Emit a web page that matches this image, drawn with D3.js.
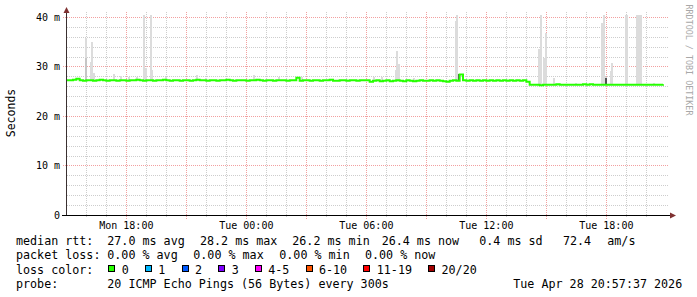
<!DOCTYPE html>
<html>
<head>
<meta charset="utf-8">
<script src="https://cdn.jsdelivr.net/npm/d3@7"></script>
<style>
  body { margin: 0; background: #fff; }
  svg text { font-family: "DejaVu Sans Mono", monospace; fill: #000; }
</style>
</head>
<body>
<svg id="chart" width="697" height="297"></svg>
<script>
// median rtt (ms), one value every 10 minutes starting Mon 15:00
const medianStart = "2026-04-27T15:00";
const medianStepMin = 10;
const medianMs = [
  27.2,27.2,27.3,27.5,27.2,27.1,27.2,27.2,27.1,27.2,27.3,27.2,27.1,27.2,27.2,27.1,27.2,27.2,
  27.1,27.2,27.2,27.3,27.2,27.1,27.2,27.2,27.1,27.2,27.2,27.3,27.2,27.1,27.2,27.2,27.1,27.2,
  27.2,27.1,27.2,27.3,27.2,27.2,27.1,27.2,27.2,27.1,27.2,27.2,27.3,27.2,27.1,27.2,27.2,27.2,
  27.1,27.2,27.2,27.3,27.2,27.1,27.2,27.2,27.1,27.2,27.2,27.2,27.1,27.2,27.2,27.7,27.1,27.2,
  27.2,27.1,27.2,27.2,27.1,27.2,27.2,27.3,27.1,27.1,27.2,27.2,27.1,27.2,27.2,27.1,27.2,27.2,
  27.2,26.9,27.1,27.2,27.0,27.1,27.2,27.0,27.1,27.2,27.1,27.0,27.2,27.1,27.0,27.1,27.2,27.1,
  27.1,27.2,27.1,27.2,27.1,27.0,26.9,27.1,27.2,27.1,28.4,27.2,27.1,27.2,27.1,27.2,27.1,27.2,
  27.1,27.2,27.1,27.2,27.1,27.2,27.1,27.2,27.1,27.2,27.1,27.2,26.9,26.3,26.3,26.3,26.2,26.3,
  26.3,26.3,26.3,26.4,26.3,26.3,26.3,26.3,26.3,26.3,26.3,26.4,26.3,26.4,26.3,26.3,26.3,26.3,
  26.3,26.3,26.3,26.3,26.3,26.3,26.3,26.3,26.3,26.3,26.3,26.3,26.3,26.3,26.3,26.3,26.3,26.4
];

// smoke: 5 minute steps with a high max ping (ms), inner = darker band top
const smokeStepMin = 5;
const spikeTimes = [
  "2026-04-27T15:55","2026-04-27T16:10","2026-04-27T16:15","2026-04-27T16:20","2026-04-27T17:20",
  "2026-04-27T17:40","2026-04-27T18:05","2026-04-27T18:30","2026-04-27T18:50","2026-04-27T18:55",
  "2026-04-27T19:10","2026-04-27T19:15","2026-04-27T19:55","2026-04-27T21:30","2026-04-27T21:55",
  "2026-04-28T00:20","2026-04-28T01:35","2026-04-28T02:45","2026-04-28T06:20","2026-04-28T06:45",
  "2026-04-28T07:25","2026-04-28T07:30","2026-04-28T07:35","2026-04-28T08:20","2026-04-28T10:25",
  "2026-04-28T10:30","2026-04-28T10:35","2026-04-28T14:35","2026-04-28T14:40","2026-04-28T14:50",
  "2026-04-28T14:55","2026-04-28T15:20","2026-04-28T16:25","2026-04-28T17:45","2026-04-28T17:50",
  "2026-04-28T17:55","2026-04-28T18:10","2026-04-28T18:15","2026-04-28T18:55","2026-04-28T19:00",
  "2026-04-28T19:30","2026-04-28T19:35","2026-04-28T19:40","2026-04-28T20:20"
];
const spikeMax = [
  35.8,31.0,35.0,28.7,28.5,
  28.0,27.9,27.9,40.4,29.7,
  40.4,29.3,27.9,28.2,27.6,
  28.2,27.9,27.8,27.9,27.8,
  29.3,33.1,30.5,27.7,39.2,
  40.4,28.5,33.5,40.4,31.7,
  36.8,27.7,26.7,38.8,40.4,
  27.8,29.1,30.7,40.4,40.4,
  40.4,40.4,40.4,26.7
];
const spikeInner = [
  31.7,null,null,null,null,
  null,null,null,null,null,
  null,null,null,null,null,
  null,null,null,null,null,
  null,null,null,null,null,
  null,28.4,null,null,null,
  null,null,null,null,null,
  27.7,null,null,null,null,
  null,null,null,null
];

const yTicks = [0, 10, 20, 30, 40];
const yTickLabels = ["0", "10 m", "20 m", "30 m", "40 m"];
const xLabelTimes = ["2026-04-27T18:00","2026-04-28T00:00","2026-04-28T06:00","2026-04-28T12:00","2026-04-28T18:00"];

const lossLabels = ["0", "1", "2", "3", "4-5", "6-10", "11-19", "20/20"];
const lossColors = ["#26ff00", "#00b8ff", "#0059ff", "#7e00ff", "#ff00ff", "#ff5500", "#ff0000", "#a10000"];
const rttStats = ["27.0 ms avg", "28.2 ms max", "26.2 ms min", "26.4 ms now", "0.4 ms sd", "72.4", "am/s"];
const lossStats = ["0.00 % avg", "0.00 % max", "0.00 % min", "0.00 % now"];
const probeText = "20 ICMP Echo Pings (56 Bytes) every 300s";
const stampText = "Tue Apr 28 20:57:37 2026";

const parse = d3.timeParse("%Y-%m-%dT%H:%M");
const svg = d3.select("#chart");

const x = d3.scaleTime()
  .domain([parse("2026-04-27T15:02"), parse("2026-04-28T21:02")])
  .range([67, 667]);
const y = d3.scaleLinear().domain([0, 41]).range([215, 12]);

const t0 = parse(medianStart);
const medianPts = medianMs.map((v, i) => ({ t: d3.timeMinute.offset(t0, i * medianStepMin), v }));
function medianAt(t) {
  let i = Math.floor((t - t0) / (medianStepMin * 60000));
  i = Math.max(0, Math.min(medianMs.length - 1, i));
  return medianMs[i];
}

// grid
const grid = svg.append("g").attr("shape-rendering", "crispEdges");
const minorY = d3.range(2, 41, 2).filter(v => v % 10 !== 0);
grid.selectAll(".hmin").data(minorY).enter().append("line")
  .attr("x1", 67).attr("x2", 668)
  .attr("y1", d => Math.round(y(d)) + 0.5).attr("y2", d => Math.round(y(d)) + 0.5)
  .attr("stroke", "#cdcdcd").attr("stroke-dasharray", "1,1");

const hours = d3.timeHour.range(x.domain()[0], x.domain()[1]).filter(d => x(d) < 665);
grid.selectAll(".vmin").data(hours.filter(d => d.getHours() % 3 !== 0)).enter().append("line")
  .attr("x1", d => Math.round(x(d)) + 0.5).attr("x2", d => Math.round(x(d)) + 0.5)
  .attr("y1", 12).attr("y2", 217)
  .attr("stroke", "#cdcdcd").attr("stroke-dasharray", "1,1");

grid.selectAll(".hmaj").data(yTicks.filter(v => v > 0)).enter().append("line")
  .attr("x1", 63).attr("x2", 668)
  .attr("y1", d => Math.round(y(d)) + 0.5).attr("y2", d => Math.round(y(d)) + 0.5)
  .attr("stroke", "#f2a0a0").attr("stroke-dasharray", "1,1");
grid.selectAll(".vmaj").data(hours.filter(d => d.getHours() % 3 === 0)).enter().append("line")
  .attr("x1", d => Math.round(x(d)) + 0.5).attr("x2", d => Math.round(x(d)) + 0.5)
  .attr("y1", 12).attr("y2", 219)
  .attr("stroke", "#f2a0a0").attr("stroke-dasharray", "1,1");

// smoke
const smoke = svg.append("g").attr("shape-rendering", "crispEdges");
const spikes = spikeTimes.map((s, i) => {
  const t = parse(s);
  return { t, max: spikeMax[i], inner: spikeInner[i], med: medianAt(t) };
});
function barX(d) { return Math.round(x(d.t)); }
function barW(d) { return Math.max(2, Math.round(x(d3.timeMinute.offset(d.t, smokeStepMin))) - barX(d)); }
smoke.selectAll(".outer").data(spikes).enter().append("rect")
  .attr("x", barX).attr("width", barW)
  .attr("y", d => Math.round(y(d.max)))
  .attr("height", d => Math.max(1, Math.round(y(d.med)) - Math.round(y(d.max))))
  .attr("fill", "#dcdcdc");
smoke.selectAll(".inner").data(spikes.filter(d => d.inner != null)).enter().append("rect")
  .attr("x", barX).attr("width", barW)
  .attr("y", d => Math.round(y(d.inner)))
  .attr("height", d => Math.max(1, Math.round(y(d.med)) - Math.round(y(d.inner))))
  .attr("fill", d => (d.inner - d.med) < 2 ? "#555555" : "#c6c6c6");

// median line
svg.append("path")
  .datum(medianPts)
  .attr("d", d3.line().x(d => x(d.t)).y(d => y(d.v)).curve(d3.curveStepAfter))
  .attr("fill", "none")
  .attr("stroke", lossColors[0])
  .attr("stroke-width", 2);

// axes
const axisColor = "#3a3030";
svg.append("line").attr("x1", 66.5).attr("x2", 66.5).attr("y1", 215).attr("y2", 10)
  .attr("stroke", axisColor).attr("shape-rendering", "crispEdges");
svg.append("line").attr("x1", 62).attr("x2", 671).attr("y1", 215.5).attr("y2", 215.5)
  .attr("stroke", "#000").attr("shape-rendering", "crispEdges");
svg.append("path").attr("d", "M63.5,13 L66.5,7 L69.5,13 Z").attr("fill", "#7f3131");
svg.append("path").attr("d", "M670,212.5 L676,215.5 L670,218.5 Z").attr("fill", "#7f3131");

svg.selectAll(".ylab").data(yTicks).enter().append("text")
  .attr("x", 60).attr("y", d => y(d) + 3.6)
  .attr("text-anchor", "end").style("font-size", "10px")
  .text((d, i) => yTickLabels[i]);

const fmt = d3.timeFormat("%a %H:%M");
svg.selectAll(".xlab").data(xLabelTimes.map(parse)).enter().append("text")
  .attr("x", d => x(d)).attr("y", 228.5)
  .attr("text-anchor", "middle").style("font-size", "10px")
  .text(d => fmt(d));

svg.append("text")
  .attr("transform", "translate(14.5,113) rotate(-90)")
  .attr("text-anchor", "middle").style("font-size", "11.5px")
  .text("Seconds");

svg.append("text")
  .attr("transform", "translate(685.5,60) rotate(90)")
  .attr("text-anchor", "middle").style("font-size", "8.4px").style("fill", "#a8a8a8")
  .text("RRDTOOL / TOBI OETIKER");

// legend
const rowY = [244.6, 259.2, 273.8, 288.4];
const lg = svg.append("g").style("font-size", "11.7px").style("white-space", "pre");
const colX = 107.3;
lg.append("text").attr("x", 16).attr("y", rowY[0]).text("median rtt:");
const rttX = [107.3, 200, 292.3, 381.7, 479.3, 563, 607.3];
lg.selectAll(".rtt").data(rttStats).enter().append("text")
  .attr("x", (d, i) => rttX[i]).attr("y", rowY[0]).text(d => d);

lg.append("text").attr("x", 16).attr("y", rowY[1]).text("packet loss:");
const lossX = [107.3, 193.3, 279.3, 365];
lg.selectAll(".ls").data(lossStats).enter().append("text")
  .attr("x", (d, i) => lossX[i]).attr("y", rowY[1]).text(d => d);

lg.append("text").attr("x", 16).attr("y", rowY[2]).text("loss color:");
let bx = 108.3;
lossLabels.forEach((lab, i) => {
  lg.append("rect")
    .attr("x", Math.round(bx) + 0.5).attr("y", 265.5).attr("width", 6).attr("height", 6)
    .attr("fill", lossColors[i]).attr("stroke", "#000").attr("shape-rendering", "crispEdges");
  const t = lg.append("text").attr("x", bx + 13.4).attr("y", rowY[2]).text(lab);
  bx = bx + 13.4 + t.node().getComputedTextLength() + 16.2;
});

lg.append("text").attr("x", 16).attr("y", rowY[3]).text("probe:");
lg.append("text").attr("x", colX).attr("y", rowY[3]).text(probeText);
lg.append("text").attr("x", 513.3).attr("y", rowY[3]).text(stampText);
</script>
</body>
</html>
